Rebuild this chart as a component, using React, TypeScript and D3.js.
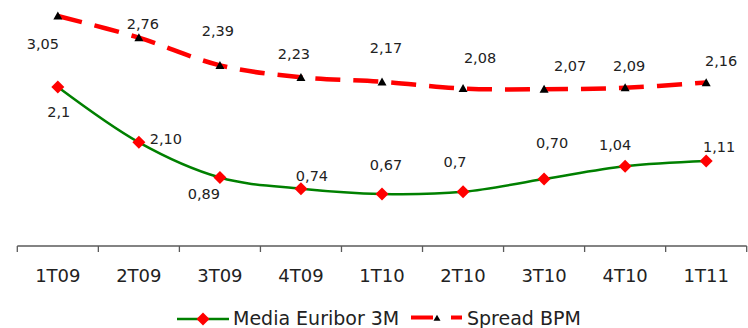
import React from "react";
import * as d3 from "d3";

// Quarterly series
const categories = ["1T09", "2T09", "3T09", "4T09", "1T10", "2T10", "3T10", "4T10", "1T11"];
const euribor = [2.1, 1.36, 0.89, 0.74, 0.67, 0.7, 0.87, 1.04, 1.11];
const euriborLabels = ["2,1", "2,10", "0,89", "0,74", "0,67", "0,7", "0,70", "1,04", "1,11"];
const spread = [3.05, 2.76, 2.39, 2.23, 2.17, 2.08, 2.07, 2.09, 2.16];
const seriesNames = ["Media Euribor 3M", "Spread BPM"];

// Data-label placement relative to each point (dx = text centre, dy = baseline)
const euriborLabelOffsets: [number, number][] = [
  [1, 30], [27, 2], [-16, 21], [11, -8], [4, -24], [-8, -25], [8, -31], [-10, -16], [13, -9],
];
const spreadLabelOffsets: [number, number][] = [
  [-15, 33], [4, -9], [-2, -29], [-7, -18], [4, -29], [17, -26], [26, -18], [4, -17], [15, -17],
];

const W = 748;
const H = 328;
const AXIS_Y = 246;
const FONT = "'DejaVu Sans', Verdana, sans-serif";
const TEXT = "#222";
const GREEN = "#008000";
const RED = "#ff0000";

const fmt = (v: number) => d3.format(".2f")(v).replace(".", ",");

const diamond = (x: number, y: number, r: number) =>
  `M${x},${y - r}L${x + r},${y}L${x},${y + r}L${x - r},${y}Z`;
const triangle = (x: number, y: number, w: number, h: number) =>
  `M${x},${y - h * 0.55}L${x + w / 2},${y + h * 0.45}L${x - w / 2},${y + h * 0.45}Z`;

export default function App() {
  const x = d3.scaleBand<string>().domain(categories).range([17.3, 746.7]);
  const cx = (i: number) => (x(categories[i]) as number) + x.bandwidth() / 2;
  const y = d3.scaleLinear().domain([0, 3.2]).range([244.1, 244.1 - 3.2 * 74.8]);

  const line = d3
    .line<number>()
    .x((_, i) => cx(i))
    .y((v) => y(v))
    .curve(d3.curveCardinal.tension(0));

  const tickXs = [...categories.map((c) => x(c) as number), x.range()[1]];

  return (
    <svg
      width={W}
      height={H}
      style={{ position: "absolute", left: 0, top: 0, background: "#fff" }}
      fontFamily={FONT}
    >
      {/* category axis */}
      <line x1={x.range()[0]} x2={x.range()[1]} y1={AXIS_Y} y2={AXIS_Y} stroke="#5a5a5a" strokeWidth={1.5} />
      {tickXs.map((t, i) => (
        <line key={i} x1={t} x2={t} y1={AXIS_Y} y2={AXIS_Y + 6} stroke="#5a5a5a" strokeWidth={1.3} />
      ))}
      {categories.map((c, i) => (
        <text key={c} x={cx(i)} y={281.5} textAnchor="middle" fontSize={18} fill={TEXT}>
          {c}
        </text>
      ))}

      {/* Spread BPM */}
      <path d={line(spread) || ""} fill="none" stroke={RED} strokeWidth={4.5} strokeDasharray="25,13" />
      {spread.map((v, i) => (
        <path key={i} d={triangle(cx(i), y(v), 9, 8)} fill="#000" />
      ))}

      {/* Media Euribor 3M */}
      <path d={line(euribor) || ""} fill="none" stroke={GREEN} strokeWidth={2.5} />
      {euribor.map((v, i) => (
        <path key={i} d={diamond(cx(i), y(v), 6.5)} fill={RED} />
      ))}

      {/* data labels */}
      {spread.map((v, i) => (
        <text
          key={i}
          x={cx(i) + spreadLabelOffsets[i][0]}
          y={y(v) + spreadLabelOffsets[i][1]}
          textAnchor="middle"
          fontSize={14.5}
          fill={TEXT}
        >
          {fmt(v)}
        </text>
      ))}
      {euribor.map((v, i) => (
        <text
          key={i}
          x={cx(i) + euriborLabelOffsets[i][0]}
          y={y(v) + euriborLabelOffsets[i][1]}
          textAnchor="middle"
          fontSize={14.5}
          fill={TEXT}
        >
          {euriborLabels[i]}
        </text>
      ))}

      {/* legend */}
      <line x1={177} x2={229} y1={319} y2={319} stroke={GREEN} strokeWidth={2.7} />
      <path d={diamond(203, 319, 6.5)} fill={RED} />
      <text x={233} y={325} fontSize={19} fill={TEXT}>
        {seriesNames[0]}
      </text>
      <line x1={411} x2={462} y1={317.5} y2={317.5} stroke={RED} strokeWidth={4} strokeDasharray="22,18" />
      <path d={triangle(437, 318, 7, 6)} fill="#000" />
      <text x={467} y={325} fontSize={19} fill={TEXT}>
        {seriesNames[1]}
      </text>
    </svg>
  );
}
